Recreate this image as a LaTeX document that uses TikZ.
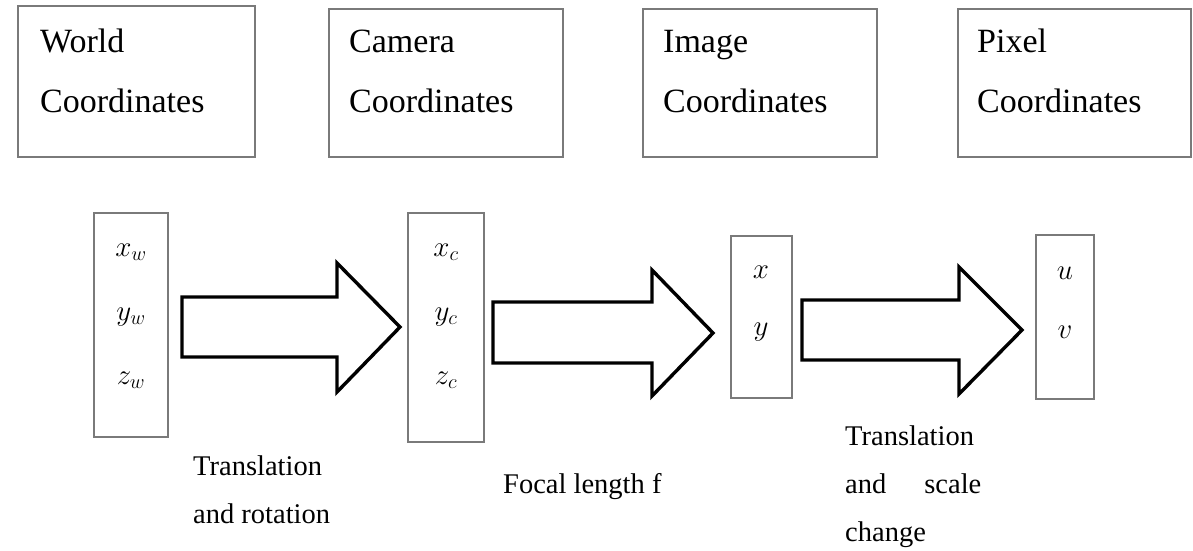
\RequirePackage{fix-cm}
\documentclass[tikz,border=0pt]{standalone}
\usepackage{fontspec}
\setmainfont{Liberation Serif}
\begin{document}
\begin{tikzpicture}[x=1pt,y=1pt,
  framebox/.style={draw=black!52, line width=1.8pt, inner sep=0pt, outer sep=0pt, anchor=north west},
  % multi-line labels are anchored at the baseline of their last line
  toplabel/.style={font=\fontsize{34}{60}\selectfont, align=left, anchor=base west, inner sep=0pt},
  vecentries/.style={font=\fontsize{29}{64}\selectfont, align=center, anchor=base, inner sep=0pt},
  steplabel/.style={font=\fontsize{28.5}{48}\selectfont, align=left, anchor=base west, inner sep=0pt},
  bigarrow/.style={draw=black, line width=3.4pt, line join=miter, fill=white}]
\useasboundingbox (0,0) rectangle (1193,-550);

% coordinate-system headers
\node[framebox, minimum width=237, minimum height=151] (world)  at (18,-6)  {};
\node[framebox, minimum width=234, minimum height=148] (camera) at (329,-9) {};
\node[framebox, minimum width=234, minimum height=148] (image)  at (643,-9) {};
\node[framebox, minimum width=233, minimum height=148] (pixel)  at (958,-9) {};
\node[toplabel] (worldtxt)  at (40,-112)  {World\\Coordinates};
\node[toplabel] (cameratxt) at (349,-112) {Camera\\Coordinates};
\node[toplabel] (imagetxt)  at (663,-112) {Image\\Coordinates};
\node[toplabel] (pixeltxt)  at (977,-112) {Pixel\\Coordinates};

% coordinate vectors
\node[framebox, minimum width=74, minimum height=224] (vw) at (94,-213)  {};
\node[framebox, minimum width=76, minimum height=229] (vc) at (408,-213) {};
\node[framebox, minimum width=61, minimum height=162] (vi) at (731,-236) {};
\node[framebox, minimum width=58, minimum height=164] (vp) at (1036,-235) {};
\node[vecentries] (vwtxt) at (131,-384) {$x_w$\\$y_w$\\$z_w$};
\node[vecentries] (vctxt) at (446,-384) {$x_c$\\$y_c$\\$z_c$};
\node[vecentries, font=\fontsize{29}{57}\selectfont] (vitxt) at (761,-335) {$x$\\$y$};
\node[vecentries, font=\fontsize{29}{59}\selectfont] (vptxt) at (1065,-338) {$u$\\$v$};

% transformation arrows
\draw[bigarrow] (182,-297) -- (337,-297) -- (337,-263) -- (400,-327)
  -- (337,-392) -- (337,-357) -- (182,-357) -- cycle;
\draw[bigarrow] (493,-302) -- (652,-302) -- (652,-270) -- (713,-333)
  -- (652,-396) -- (652,-363) -- (493,-363) -- cycle;
\draw[bigarrow] (802,-300) -- (959,-300) -- (959,-267) -- (1022,-330)
  -- (959,-394) -- (959,-360) -- (802,-360) -- cycle;

% transformation labels
\node[steplabel] (l1) at (193,-523) {Translation\\and rotation};
\node[steplabel] (l2) at (503,-493) {Focal length f};
\node[steplabel] (l3) at (845,-541) {Translation\\and\hspace{38pt}scale\\change};
\end{tikzpicture}
\end{document}
